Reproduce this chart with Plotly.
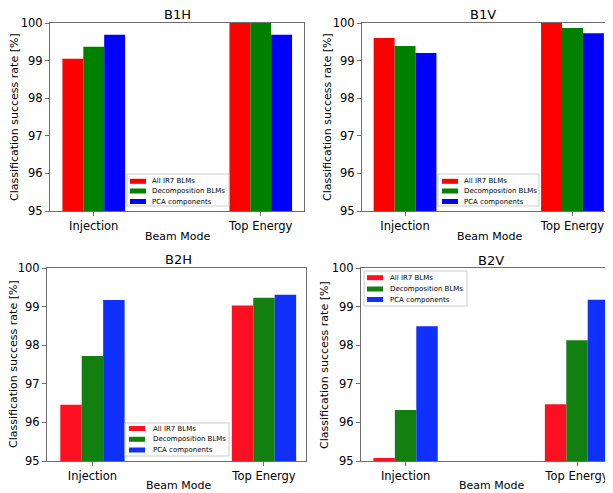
import plotly.graph_objects as go

# page offset of the plot div (body margin) compensated below
OFF = 8
W, H = 613 - OFF, 493 - OFF

modes = ["Injection", "Top Energy"]
series = ["All IR7 BLMs", "Decomposition BLMs", "PCA components"]
panels = ["B1H", "B1V", "B2H", "B2V"]

b1h_all = [99.05, 100.0]
b1h_dec = [99.37, 100.0]
b1h_pca = [99.69, 99.69]

b1v_all = [99.60, 100.0]
b1v_dec = [99.39, 99.87]
b1v_pca = [99.20, 99.73]

b2h_all = [96.46, 99.03]
b2h_dec = [97.72, 99.23]
b2h_pca = [99.17, 99.31]

b2v_all = [95.08, 96.47]
b2v_dec = [96.32, 98.13]
b2v_pca = [98.49, 99.18]

data = {
    "B1H": [b1h_all, b1h_dec, b1h_pca],
    "B1V": [b1v_all, b1v_dec, b1v_pca],
    "B2H": [b2h_all, b2h_dec, b2h_pca],
    "B2V": [b2v_all, b2v_dec, b2v_pca],
}

top_colors = ["#ff0000", "#008000", "#0000ff"]
bot_colors = ["#fd1021", "#118011", "#1030fd"]

def px(x):
    return (x - OFF) / W

def py(y):
    return 1 - (y - OFF) / H

# layout geometry (page pixels)
geo = {
    "B1H": dict(x=(50, 304), y=(23, 211), xr=[-0.262, 1.259], mirror=True,
                title=(177, 15), xt=(177, 236), yt=(15, 117),
                leg=(127, 174, 229, 206), sw=(130, 146), tx=150, rows=[181.3, 191.0, 201.5]),
    "B1V": dict(x=(362, 613), y=(23, 211), xr=[-0.257, 1.242], mirror=False,
                title=(483, 15), xt=(489, 236), yt=(328, 117),
                leg=(438, 174, 539, 206), sw=(442, 458), tx=462, rows=[181.3, 191.0, 201.5]),
    "B2H": dict(x=(47, 306), y=(268, 461), xr=[-0.265, 1.245], mirror=True,
                title=(178.7, 259), xt=(178, 485), yt=(13, 364),
                leg=(125, 423, 229, 456), sw=(129, 145), tx=151, rows=[428.5, 439.3, 450.0]),
    "B2V": dict(x=(361, 613), y=(268, 461), xr=[-0.26, 1.21], mirror=False,
                title=(491, 260), xt=(491, 485), yt=(324, 365),
                leg=(364, 271, 467, 306), sw=(367, 383), tx=388, rows=[277.7, 289.0, 299.5]),
}

fig = go.Figure()
shapes = []
annotations = []
font_family = "DejaVu Sans"
spine = "#6e6e6e"

for i, name in enumerate(panels):
    g = geo[name]
    colors = top_colors if i < 2 else bot_colors
    xa = "x" if i == 0 else f"x{i+1}"
    ya = "y" if i == 0 else f"y{i+1}"
    for s, vals, c in zip(series, data[name], colors):
        fig.add_trace(go.Bar(x=[0, 1], y=vals, name=s, marker=dict(color=c, line=dict(width=0)),
                             xaxis=xa, yaxis=ya, showlegend=False))
    axkey = "xaxis" if i == 0 else f"xaxis{i+1}"
    aykey = "yaxis" if i == 0 else f"yaxis{i+1}"
    fig.layout[axkey] = dict(domain=[px(g["x"][0]), min(1, px(g["x"][1]))], range=g["xr"],
                             tickmode="array", tickvals=[0, 1], ticktext=modes,
                             showline=True, linecolor=spine, linewidth=1, mirror=True,
                             ticks="outside", ticklen=4, tickcolor=spine, automargin=False,
                             showgrid=False, zeroline=False, anchor=ya,
                             tickfont=dict(size=11.5, color="black", family=font_family))
    fig.layout[aykey] = dict(domain=[py(g["y"][1]), py(g["y"][0])], range=[95, 100],
                             tickmode="array", tickvals=[95, 96, 97, 98, 99, 100],
                             showline=True, linecolor=spine, linewidth=1, mirror=g["mirror"],
                             ticks="outside", ticklen=4, tickcolor=spine, automargin=False,
                             showgrid=False, zeroline=False, anchor=xa,
                             tickfont=dict(size=11.5, color="black", family=font_family))
    # titles
    annotations.append(dict(text=name, x=px(g["title"][0]), y=py(g["title"][1]), xref="paper", yref="paper",
                            showarrow=False, xanchor="center", yanchor="middle",
                            font=dict(size=13, color="black", family=font_family)))
    annotations.append(dict(text="Beam Mode", x=px(g["xt"][0]), y=py(g["xt"][1]), xref="paper", yref="paper",
                            showarrow=False, xanchor="center", yanchor="middle",
                            font=dict(size=11, color="black", family=font_family)))
    annotations.append(dict(text="Classification success rate [%]", x=px(g["yt"][0]), y=py(g["yt"][1]),
                            xref="paper", yref="paper", textangle=-90,
                            showarrow=False, xanchor="center", yanchor="middle",
                            font=dict(size=11, color="black", family=font_family)))
    # legend
    lx0, ly0, lx1, ly1 = g["leg"]
    shapes.append(dict(type="rect", xref="paper", yref="paper", x0=px(lx0), x1=px(lx1), y0=py(ly1), y1=py(ly0),
                       line=dict(color="#cccccc", width=1), fillcolor="rgba(255,255,255,0.85)", layer="above"))
    for s, c, ry in zip(series, colors, g["rows"]):
        shapes.append(dict(type="rect", xref="paper", yref="paper", x0=px(g["sw"][0]), x1=px(g["sw"][1]),
                           y0=py(ry + 2.5), y1=py(ry - 2.5), line=dict(width=0), fillcolor=c, layer="above"))
        annotations.append(dict(text=s, x=px(g["tx"]), y=py(ry), xref="paper", yref="paper",
                                showarrow=False, xanchor="left", yanchor="middle",
                                font=dict(size=7, color="black", family=font_family)))

fig.update_layout(width=W, height=H, margin=dict(l=0, r=0, t=0, b=0, autoexpand=False),
                  paper_bgcolor="white", plot_bgcolor="white",
                  barmode="group", bargap=0.625, bargroupgap=0,
                  shapes=shapes, annotations=annotations,
                  font=dict(family=font_family))

fig.write_html("out.html")
